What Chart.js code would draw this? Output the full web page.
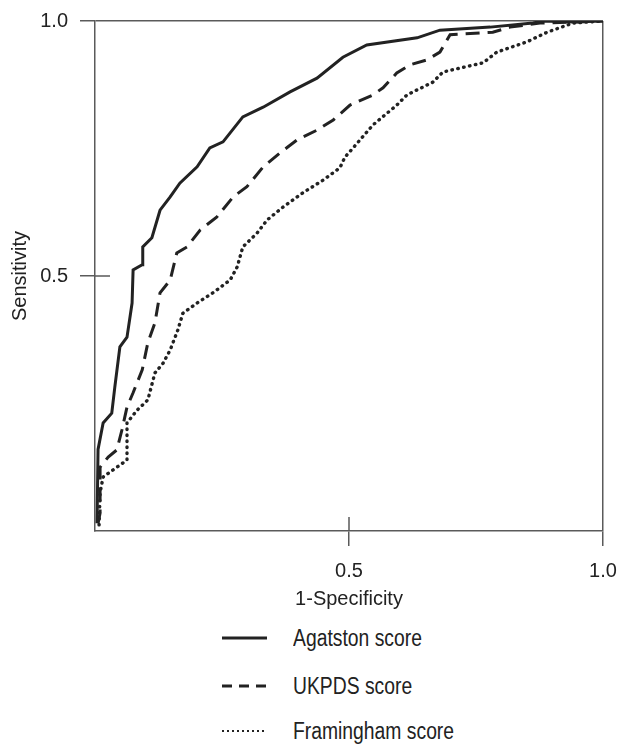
<!DOCTYPE html>
<html>
<head>
<meta charset="utf-8">
<script src="https://cdn.jsdelivr.net/npm/chart.js@4.4.1/dist/chart.umd.min.js"></script>
<style>
  html, body { margin: 0; padding: 0; background: #fff; }
  #wrap { position: relative; width: 618px; height: 744px; overflow: hidden; }
  #box { position: absolute; left: 0; top: 0; width: 618px; height: 615px; }
  .row { position: absolute; left: 222px; height: 30px; display: flex; align-items: center;
         font: 23px 'Liberation Sans', Arial, sans-serif; color: #222; white-space: nowrap; }
  .row svg { display: block; margin-right: 26px; }
  .row span { display: inline-block; transform: scaleX(0.84); transform-origin: left center; }
</style>
</head>
<body>
<div id="wrap">
  <div id="box"><canvas id="roc"></canvas></div>
  <div id="legend"></div>
</div>
<script>
'use strict';

// ── Datos ─────────────────────────────────────────────────────────────────────

const seriesNames = ['Agatston score', 'UKPDS score', 'Framingham score'];

const agatstonX = [0.004, 0.006, 0.016, 0.033, 0.039, 0.049, 0.063, 0.073, 0.075, 0.093, 0.094,
  0.112, 0.128, 0.148, 0.167, 0.201, 0.226, 0.252, 0.291, 0.331, 0.384, 0.437, 0.488, 0.535,
  0.634, 0.679, 0.778, 0.862, 0.882, 0.941, 1.0];
const agatstonY = [0.015, 0.160, 0.212, 0.231, 0.282, 0.361, 0.380, 0.447, 0.512, 0.522, 0.557,
  0.575, 0.629, 0.655, 0.682, 0.714, 0.751, 0.763, 0.812, 0.831, 0.861, 0.888, 0.929, 0.953,
  0.967, 0.982, 0.988, 0.996, 1.0, 0.998, 1.0];

const ukpdsX = [0.006, 0.010, 0.010, 0.026, 0.043, 0.053, 0.063, 0.075, 0.093, 0.104, 0.118,
  0.128, 0.148, 0.161, 0.181, 0.207, 0.240, 0.272, 0.299, 0.331, 0.364, 0.398, 0.437, 0.469,
  0.502, 0.547, 0.567, 0.594, 0.620, 0.654, 0.679, 0.699, 0.783, 0.817, 0.876, 1.0];
const ukpdsY = [0.015, 0.035, 0.125, 0.145, 0.159, 0.198, 0.243, 0.271, 0.316, 0.369, 0.408,
  0.467, 0.492, 0.545, 0.557, 0.590, 0.616, 0.655, 0.675, 0.714, 0.741, 0.767, 0.786, 0.806,
  0.835, 0.855, 0.869, 0.898, 0.914, 0.924, 0.939, 0.973, 0.978, 0.988, 0.996, 1.0];

const framinghamX = [0.008, 0.010, 0.016, 0.043, 0.063, 0.063, 0.083, 0.104, 0.118, 0.134, 0.148,
  0.163, 0.173, 0.201, 0.232, 0.266, 0.280, 0.291, 0.319, 0.339, 0.370, 0.409, 0.449, 0.482,
  0.492, 0.508, 0.547, 0.594, 0.614, 0.665, 0.685, 0.764, 0.791, 0.850, 0.890, 0.941, 1.0];
const framinghamY = [0.012, 0.075, 0.106, 0.125, 0.139, 0.212, 0.237, 0.257, 0.310, 0.329, 0.355,
  0.394, 0.427, 0.447, 0.467, 0.492, 0.518, 0.557, 0.584, 0.610, 0.635, 0.663, 0.688, 0.712,
  0.733, 0.751, 0.796, 0.835, 0.855, 0.880, 0.900, 0.918, 0.939, 0.959, 0.978, 0.996, 1.0];

const xTicks = [0.5, 1.0];
const yTicks = [0.5, 1.0];

// ── Estilo ────────────────────────────────────────────────────────────────────

const lineColor = '#222222';
const axisColor = '#5a5a5a';
const fontFamily = "'Liberation Sans', Arial, sans-serif";
const styles = [
  { dash: [], cap: 'butt', width: 3, legendDash: '', legendWidth: 3 },
  { dash: [14, 8], cap: 'butt', width: 3, legendDash: '10 7', legendWidth: 3 },
  { dash: [0.5, 5.5], cap: 'round', width: 3.4, legendDash: '2 3', legendWidth: 2 },
];

const toPoints = (xs, ys) => xs.map((x, i) => ({ x, y: ys[i] }));
const allSeries = [
  toPoints(agatstonX, agatstonY),
  toPoints(ukpdsX, ukpdsY),
  toPoints(framinghamX, framinghamY),
];

// Marcas de 0.5 que cruzan el eje hacia adentro
const innerTicks = {
  id: 'innerTicks',
  afterDraw(chart) {
    const { ctx, chartArea, scales } = chart;
    ctx.save();
    ctx.strokeStyle = axisColor;
    ctx.lineWidth = 1.5;
    ctx.beginPath();
    const px = scales.x.getPixelForValue(0.5);
    ctx.moveTo(px, chartArea.bottom); ctx.lineTo(px, chartArea.bottom - 14);
    const py = scales.y.getPixelForValue(0.5);
    ctx.moveTo(chartArea.left, py); ctx.lineTo(chartArea.left + 15, py);
    ctx.stroke();
    ctx.restore();
  },
};

// solo la línea de 1.0 se dibuja sobre el área (cierra el marco)
const gridColor = ctx => (ctx.tick && ctx.tick.value === 1 ? axisColor : 'rgba(0,0,0,0)');

new Chart(document.getElementById('roc'), {
  type: 'line',
  data: {
    datasets: allSeries.map((pts, i) => ({
      label: seriesNames[i],
      data: pts,
      borderColor: lineColor,
      borderWidth: styles[i].width,
      borderDash: styles[i].dash,
      borderCapStyle: styles[i].cap,
      pointRadius: 0,
      tension: 0,
      fill: false,
    })),
  },
  options: {
    responsive: true,
    maintainAspectRatio: false,
    animation: false,
    layout: { autoPadding: false, padding: { top: 21, right: 15, left: 0, bottom: 0 } },
    plugins: { legend: { display: false }, tooltip: { enabled: false } },
    scales: {
      x: {
        type: 'linear', min: 0, max: 1,
        afterBuildTicks: s => { s.ticks = xTicks.map(v => ({ value: v })); },
        afterFit: s => { s.height = 84; s.paddingLeft = 0; s.paddingRight = 0; },
        ticks: { callback: v => Number(v).toFixed(1), color: '#222', padding: 13,
                 maxRotation: 0, autoSkip: false, font: { family: fontFamily, size: 20 } },
        grid: { color: gridColor, tickColor: axisColor, tickLength: 15, lineWidth: 1.5 },
        border: { color: axisColor, width: 1.5 },
        title: { display: true, text: '1-Specificity', color: '#222',
                 font: { family: fontFamily, size: 20 }, padding: { top: 0, bottom: 4 } },
      },
      y: {
        type: 'linear', min: 0, max: 1,
        afterBuildTicks: s => { s.ticks = yTicks.map(v => ({ value: v })); },
        afterFit: s => { s.width = 95; s.paddingTop = 0; s.paddingBottom = 0; },
        ticks: { callback: v => Number(v).toFixed(1), color: '#222', padding: 12,
                 autoSkip: false, font: { family: fontFamily, size: 20 } },
        grid: { color: gridColor, tickColor: axisColor, tickLength: 15, lineWidth: 1.5 },
        border: { color: axisColor, width: 1.5 },
        title: { display: true, text: 'Sensitivity', color: '#222',
                 font: { family: fontFamily, size: 20 }, padding: { top: 8, bottom: 0 } },
      },
    },
  },
  plugins: [innerTicks],
});

// ── Leyenda ───────────────────────────────────────────────────────────────────

const legendRowsY = [638, 686, 731];
const legend = document.getElementById('legend');
seriesNames.forEach((name, i) => {
  const row = document.createElement('div');
  row.className = 'row';
  row.style.top = (legendRowsY[i] - 15) + 'px';
  const dash = styles[i].legendDash ? ` stroke-dasharray="${styles[i].legendDash}"` : '';
  row.innerHTML = `<svg width="45" height="8"><line x1="0" y1="4" x2="45" y2="4" stroke="${lineColor}" stroke-width="${styles[i].legendWidth}"${dash}/></svg><span>${name}</span>`;
  legend.appendChild(row);
});
</script>
</body>
</html>
